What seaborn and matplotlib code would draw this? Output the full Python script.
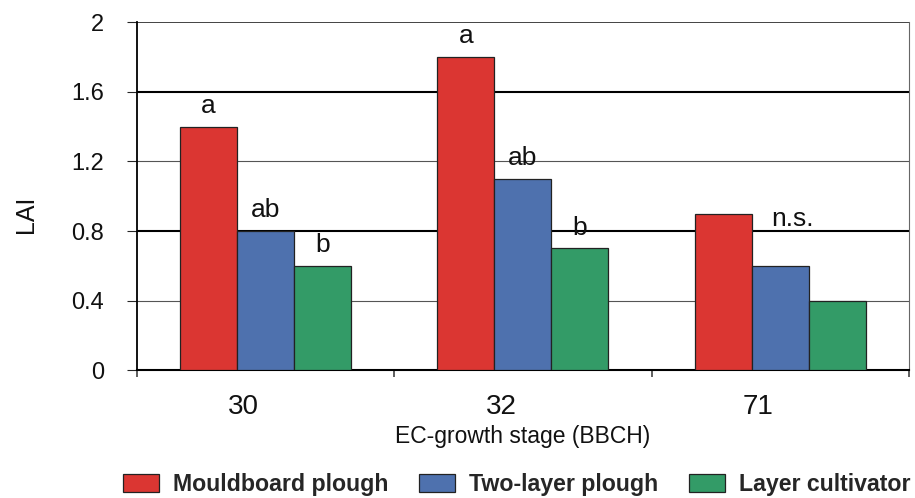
import numpy as np
import pandas as pd
import matplotlib
matplotlib.use("Agg")
import matplotlib.pyplot as plt
import matplotlib.transforms as mtransforms
from matplotlib.patches import Patch
import seaborn as sns

# ---- data ----
stages = ["30", "32", "71"]
tillage = ["Mouldboard plough", "Two-layer plough", "Layer cultivator"]
lai_mouldboard = [1.4, 1.8, 0.9]
lai_twolayer = [0.8, 1.1, 0.6]
lai_cultivator = [0.6, 0.7, 0.4]
# significance letters, per stage (mouldboard, two-layer, cultivator)
letters = [["a", "ab", "b"], ["a", "ab", "b"], ["", "n.s.", ""]]
colors = ["#DB3632", "#4E71AE", "#339B67"]

df = pd.DataFrame({
    "stage": stages * 3,
    "tillage": np.repeat(tillage, len(stages)),
    "LAI": lai_mouldboard + lai_twolayer + lai_cultivator,
})

sns.set_style("white")
plt.rcParams["font.family"] = ["Liberation Sans", "DejaVu Sans"]

fig = plt.figure(figsize=(9.15, 4.98), dpi=100)
ax = fig.add_axes([136.7 / 915, 1 - 370 / 498, (909 - 136.7) / 915, (370 - 22.5) / 498])

sns.barplot(data=df, x="stage", y="LAI", hue="tillage", order=stages,
            hue_order=tillage, palette=colors, width=0.665,
            edgecolor="#222222", linewidth=0.9, saturation=1,
            legend=False, ax=ax, zorder=3)

ax.set_xlim(-0.5, 2.5)
ax.set_ylim(0, 2)
ax.set_yticks([0, 0.4, 0.8, 1.2, 1.6, 2.0])
ax.set_yticklabels(["0", "0.4", "0.8", "1.2", "1.6", "2"])

# grid: alternating heavy / light lines like the original
ax.yaxis.grid(True, zorder=0)
ax.set_axisbelow(True)
grid_styles = {0: (0, "#000000"), 1: (0.8, "#555555"), 2: (1.5, "#000000"),
               3: (0.8, "#555555"), 4: (1.5, "#000000"), 5: (1.1, "#111111")}
for i, (gl, tk) in enumerate(zip(ax.yaxis.get_gridlines(), ax.yaxis.get_major_ticks())):
    lw, c = grid_styles[i]
    gl.set_linewidth(lw)
    gl.set_color(c)
    tk.tick1line.set_markeredgewidth(max(lw, 0.9) if i else 1.3)
    tk.tick1line.set_color(c if i else "#000000")

ax.spines["top"].set_visible(False)
ax.spines["right"].set_color("#666666")
ax.spines["right"].set_linewidth(0.8)
ax.spines["left"].set_color("#000000")
ax.spines["left"].set_linewidth(1.3)
ax.spines["bottom"].set_color("#000000")
ax.spines["bottom"].set_linewidth(1.5)

ax.tick_params(axis="y", which="major", direction="out", length=7.2, pad=16.5,
               labelsize=17, labelcolor="#111111", left=True)
ax.set_xticks([-0.5, 0.5, 1.5, 2.5], minor=True)
ax.tick_params(axis="x", which="minor", direction="out", length=5, width=1.1,
               color="#333333", bottom=True)
ax.tick_params(axis="x", which="major", length=0, pad=17, labelsize=20,
               labelcolor="#111111")
shift = mtransforms.ScaledTranslation(-0.22, 0, fig.dpi_scale_trans)
for lab in ax.get_xticklabels():
    lab.set_transform(lab.get_transform() + shift)

ax.set_xlabel("EC-growth stage (BBCH)", fontsize=16.5, color="#111111")
ax.xaxis.set_label_coords(0.5, -0.157)
ax.set_ylabel("LAI", fontsize=18, color="#111111")
ax.yaxis.set_label_coords(-0.128, 0.448)

# significance letters above the bars
bars = ax.patches
for h in range(len(tillage)):
    for g in range(len(stages)):
        txt = letters[g][h]
        if not txt:
            continue
        bar = bars[h * len(stages) + g]
        x = bar.get_x() + bar.get_width() / 2
        y = bar.get_height()
        dx, dy = (9, 34) if txt == "n.s." else (0, 15)
        ax.annotate(txt, (x, y), xytext=(dx, dy), textcoords="offset points",
                    ha="center", va="center", fontsize=19, color="#111111")

handles = [Patch(facecolor=c, edgecolor="#222222", linewidth=0.9) for c in colors]
fig.legend(handles, tillage, loc="center", bbox_to_anchor=(0.5645, 0.027),
           ncol=3, frameon=False, prop={"weight": "bold", "size": 16.7},
           handlelength=1.55, handleheight=0.82, handletextpad=0.6,
           columnspacing=1.34, borderaxespad=0, borderpad=0)

fig.savefig("out.png", dpi=100)
